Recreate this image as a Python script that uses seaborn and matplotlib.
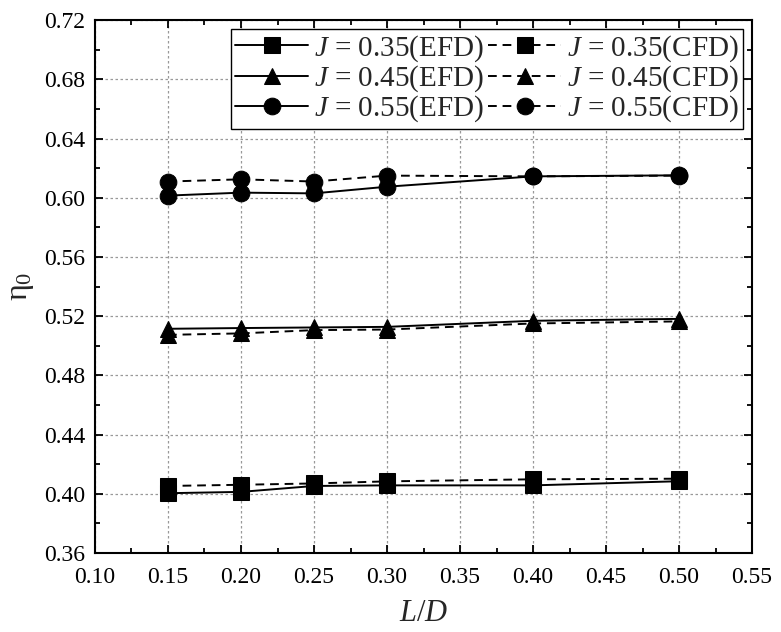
import pandas as pd
import matplotlib
matplotlib.use("Agg")
import matplotlib.pyplot as plt
import seaborn as sns

# values
ld = [0.15, 0.20, 0.25, 0.30, 0.40, 0.50]
j035_efd = [0.4004, 0.4013, 0.4053, 0.4057, 0.4057, 0.4085]
j035_cfd = [0.4053, 0.4061, 0.4070, 0.4084, 0.4098, 0.4102]
j045_efd = [0.5115, 0.5120, 0.5124, 0.5128, 0.5169, 0.5182]
j045_cfd = [0.5074, 0.5084, 0.5106, 0.5110, 0.5151, 0.5165]
j055_efd = [0.6015, 0.6035, 0.6030, 0.6075, 0.6145, 0.6152]
j055_cfd = [0.6110, 0.6125, 0.6110, 0.6150, 0.6145, 0.6150]

sns.set_theme(style="ticks")
plt.rcParams["font.family"] = ["Liberation Serif", "DejaVu Serif"]
plt.rcParams["mathtext.fontset"] = "custom"
plt.rcParams["mathtext.rm"] = "Liberation Serif"
plt.rcParams["mathtext.it"] = "Liberation Serif:italic"

fig = plt.figure(figsize=(7.81, 6.32), dpi=100)
ax = fig.add_axes([0.1216, 0.125, 0.8414, 0.843])

series = [
    (j035_efd, "s", "-", "$J$ = 0.35(EFD)"),
    (j045_efd, "^", "-", "$J$ = 0.45(EFD)"),
    (j055_efd, "o", "-", "$J$ = 0.55(EFD)"),
    (j035_cfd, "s", (0, (4.5, 3)), "$J$ = 0.35(CFD)"),
    (j045_cfd, "^", (0, (4.5, 3)), "$J$ = 0.45(CFD)"),
    (j055_cfd, "o", (0, (4.5, 3)), "$J$ = 0.55(CFD)"),
]

for vals, mk, ls, lab in series:
    df = pd.DataFrame({"L/D": ld, "eta": vals})
    sns.lineplot(data=df, x="L/D", y="eta", ax=ax, color="black", marker=mk,
                 markersize=12, markeredgecolor="black", linestyle=ls,
                 linewidth=1.4, label=lab, zorder=3)

ax.set_xlim(0.10, 0.55)
ax.set_ylim(0.36, 0.72)
ax.set_xticks([0.10 + 0.05 * i for i in range(10)])
ax.set_yticks([0.36 + 0.04 * i for i in range(10)])
ax.set_xticks([0.125 + 0.05 * i for i in range(9)], minor=True)
ax.set_yticks([0.38 + 0.04 * i for i in range(9)], minor=True)
ax.xaxis.set_major_formatter(matplotlib.ticker.FormatStrFormatter("%.2f"))
ax.yaxis.set_major_formatter(matplotlib.ticker.FormatStrFormatter("%.2f"))
ax.tick_params(which="both", direction="in", top=True, right=True,
               labelsize=17, width=1.3, colors="black", pad=7)
ax.tick_params(axis="x", which="both", pad=10)
ax.tick_params(which="major", length=6)
ax.tick_params(which="minor", length=3.5)
ax.grid(True, which="major", color="#999999", linestyle=(0, (2, 2)), linewidth=0.9)
for s in ax.spines.values():
    s.set_linewidth(1.5)
    s.set_color("black")

ax.set_xlabel("$L/D$", fontsize=22, labelpad=8)
ax.set_ylabel("η$_0$", fontsize=23, labelpad=6)

leg = ax.legend(loc="upper right", ncol=2, fontsize=21, frameon=True,
                fancybox=False, edgecolor="black", framealpha=1,
                handlelength=2.5, handletextpad=0.2, columnspacing=0.15,
                borderpad=0.15, labelspacing=-0.02, borderaxespad=0.3)
leg.get_frame().set_linewidth(1.0)

fig.savefig("out.png", dpi=100)
